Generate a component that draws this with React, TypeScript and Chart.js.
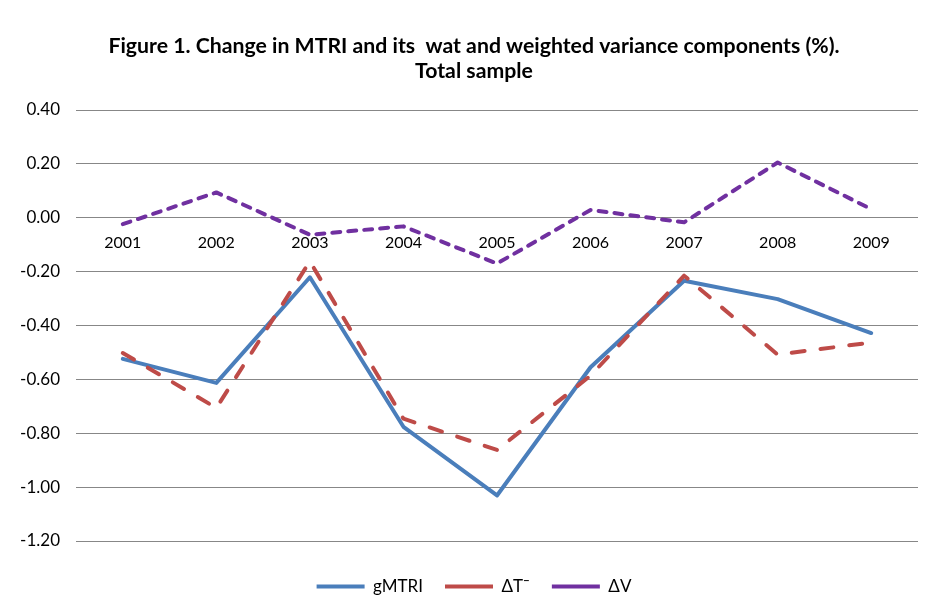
import React, { useEffect, useRef } from "react";
import { Chart, registerables } from "chart.js";

Chart.register(...registerables);

const years = ["2001", "2002", "2003", "2004", "2005", "2006", "2007", "2008", "2009"];
const gMTRI = [-0.524, -0.613, -0.221, -0.776, -1.031, -0.555, -0.234, -0.302, -0.428];
const deltaT = [-0.502, -0.706, -0.162, -0.746, -0.862, -0.586, -0.215, -0.508, -0.463];
const deltaV = [-0.024, 0.094, -0.063, -0.032, -0.17, 0.029, -0.017, 0.205, 0.032];
const titleLines = [
  "Figure 1. Change in MTRI and its  wat and weighted variance components (%).",
  "Total sample",
];
const seriesNames = ["gMTRI", "ΔT¯", "ΔV"];

const FONT = "Lato, 'Open Sans', sans-serif";

export default function App() {
  const ref = useRef<HTMLCanvasElement | null>(null);

  useEffect(() => {
    if (!ref.current) return;
    const chart = new Chart(ref.current, {
      type: "line",
      data: {
        labels: years,
        datasets: [
          {
            label: seriesNames[0],
            data: gMTRI,
            borderColor: "#4A7EBB",
            backgroundColor: "#4A7EBB",
            borderWidth: 4,
            borderCapStyle: "round",
            borderJoinStyle: "round",
            pointRadius: 0,
            order: 3,
          },
          {
            label: seriesNames[1],
            data: deltaT,
            borderColor: "#BE4B48",
            backgroundColor: "#BE4B48",
            borderWidth: 4,
            borderDash: [13, 16],
            borderCapStyle: "round",
            borderJoinStyle: "round",
            pointRadius: 0,
            order: 2,
          },
          {
            label: seriesNames[2],
            data: deltaV,
            borderColor: "#7030A0",
            backgroundColor: "#7030A0",
            borderWidth: 4,
            borderDash: [8, 8],
            borderCapStyle: "round",
            borderJoinStyle: "round",
            pointRadius: 0,
            order: 1,
          },
        ],
      },
      options: {
        responsive: false,
        animation: false,
        layout: { padding: { left: 0, right: 0, top: 0, bottom: 7 } },
        plugins: {
          title: {
            display: true,
            text: titleLines,
            color: "#000",
            font: { family: FONT, size: 21.25, weight: "bold", lineHeight: 25 / 21.25 },
            padding: { top: 25.5, bottom: 26.5 },
          },
          legend: {
            display: true,
            position: "bottom",
            reverse: true,
            labels: {
              usePointStyle: true,
              pointStyle: "line",
              pointStyleWidth: 48,
              padding: 22,
              color: "#000",
              font: { family: FONT, size: 17 },
            },
          },
          tooltip: { enabled: false },
        },
        scales: {
          x: {
            type: "category",
            offset: true,
            position: { y: 0 } as any,
            grid: { display: false, drawTicks: false },
            border: { display: false },
            ticks: {
              color: "#000",
              padding: 15,
              maxRotation: 0,
              font: { family: FONT, size: 16 },
            },
            afterFit: (s: any) => {
              s.height = 0;
            },
          },
          xPad: {
            type: "category",
            position: "bottom",
            offset: true,
            grid: { display: false, drawTicks: false },
            border: { display: false },
            ticks: { display: false },
            afterFit: (s: any) => {
              s.height = 15;
            },
          },
          y: {
            min: -1.2,
            max: 0.4,
            grid: { color: "#878787", lineWidth: 1, drawTicks: false },
            border: { display: false },
            ticks: {
              stepSize: 0.2,
              color: "#000",
              padding: 16,
              font: { family: FONT, size: 17 },
              callback: (v: any) => Number(v).toFixed(2),
            },
            afterFit: (s: any) => {
              s.width = 68;
            },
          },
          yPad: {
            type: "linear",
            position: "right",
            grid: { display: false, drawTicks: false },
            border: { display: false },
            ticks: { display: false },
            afterFit: (s: any) => {
              s.width = 22;
            },
          },
        },
      },
    });
    return () => chart.destroy();
  }, []);

  return (
    <div
      style={{
        marginTop: -2,
        marginLeft: -1,
        borderTop: "2px solid #a6a6a6",
        borderLeft: "1px solid #a6a6a6",
        width: 919,
        height: 604,
        overflow: "hidden",
      }}
    >
      <canvas ref={ref} width={932} height={604} style={{ display: "block" }} />
    </div>
  );
}
